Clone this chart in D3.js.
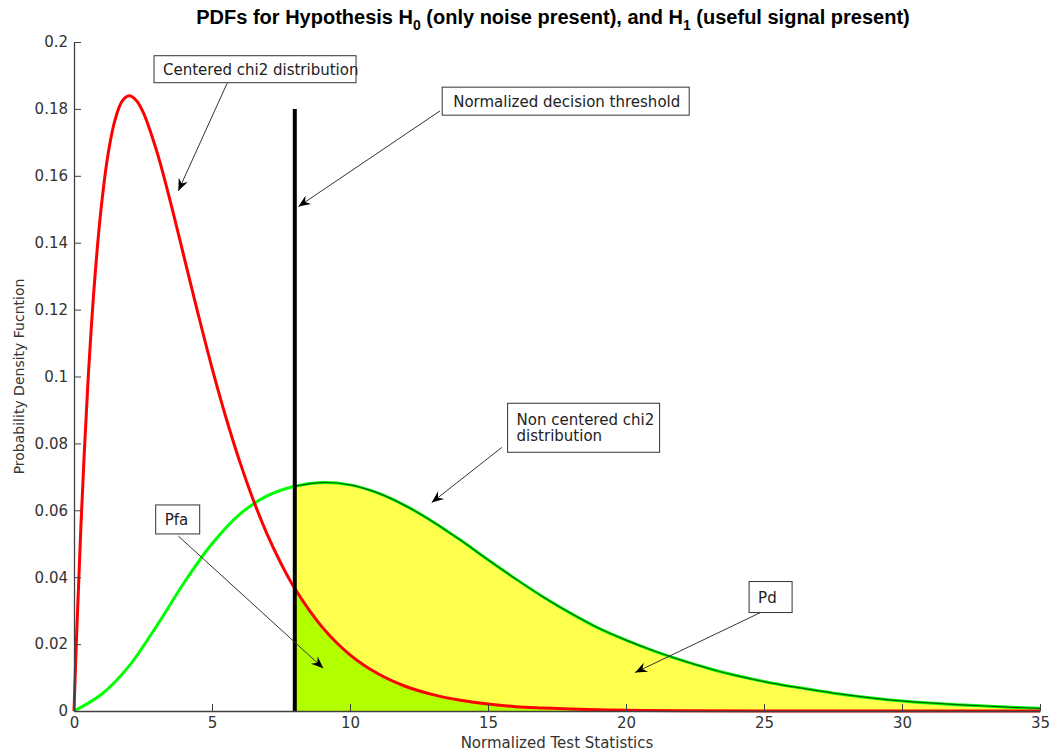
<!DOCTYPE html>
<html><head><meta charset="utf-8">
<script src="https://cdn.jsdelivr.net/npm/d3@7"></script>
<style>body{margin:0;background:#fff} svg{display:block}</style>
</head><body><svg id="chart" width="1052" height="756"></svg>
<script>
// ---------- data ----------
const xTicks = [0, 5, 10, 15, 20, 25, 30, 35];
const xTickLabels = ["0", "5", "10", "15", "20", "25", "30", "35"];
const yTicks = [0, 0.02, 0.04, 0.06, 0.08, 0.1, 0.12, 0.14, 0.16, 0.18, 0.2];
const yTickLabels = ["0", "0.02", "0.04", "0.06", "0.08", "0.1", "0.12", "0.14", "0.16", "0.18", "0.2"];

// centered chi2 (H0)
const redX = [0, 0.1, 0.25, 0.5, 0.75, 1, 1.25, 1.5, 1.75, 2, 2.25, 2.5, 3, 3.5, 4, 4.5, 5, 5.5, 6, 6.5, 7, 7.5, 8, 9, 10, 11, 12, 13, 14, 15, 16, 17, 18, 20, 22, 25, 30, 35];
const redY = [0, 0.0238, 0.0552, 0.0974, 0.1289, 0.1516, 0.1673, 0.1771, 0.1824, 0.1839, 0.1826, 0.1791, 0.1673, 0.1520, 0.1353, 0.1186, 0.1026, 0.0879, 0.0747, 0.0630, 0.0528, 0.0441, 0.0366, 0.0250, 0.0168, 0.0112, 0.0074, 0.0049, 0.0032, 0.0021, 0.0013, 0.0009, 0.0006, 0.0002, 0.0001, 0.00002, 0, 0];

// non centered chi2 (H1)
const greenX = [0, 1, 2, 3, 4, 5, 6, 7, 8, 9, 10, 11, 12, 13, 14, 15, 16, 17, 18, 19, 20, 21, 22, 23, 24, 25, 26, 27, 28, 29, 30, 31, 32, 33, 34, 35];
const greenY = [0, 0.005, 0.0135, 0.0255, 0.0385, 0.0500, 0.0588, 0.0643, 0.0672, 0.0683, 0.0676, 0.0652, 0.0614, 0.0566, 0.0511, 0.0452, 0.0395, 0.0341, 0.0292, 0.0248, 0.0212, 0.0180, 0.0152, 0.0127, 0.0106, 0.0088, 0.0073, 0.0060, 0.0048, 0.0038, 0.0030, 0.0024, 0.0019, 0.0015, 0.0011, 0.0008];

const threshold = 8;
const thresholdTop = 0.18;

// annotations (data coordinates)
const annoText = [["Centered chi2 distribution"], ["Normalized decision threshold"], ["Non centered chi2", "distribution"], ["Pfa"], ["Pd"]];
const annoBoxX = [2.90, 13.34, 15.71, 2.96, 24.46];
const annoBoxY = [0.1959, 0.1865, 0.0920, 0.0616, 0.0387];
const annoFromX = [5.55, 13.26, 15.50, 3.78, 24.94];
const annoFromY = [0.1877, 0.1794, 0.0788, 0.0523, 0.0297];
const annoToX = [3.78, 8.13, 12.96, 9.03, 20.33];
const annoToY = [0.1555, 0.1508, 0.0623, 0.0128, 0.0115];

// ---------- layout / style ----------
const W = 1052, H = 756;
const margin = {left: 74, top: 42, right: 12, bottom: 45};
const boxW = [202, 247, 152, 44, 43];
const boxH = [27, 28, 49, 29, 31];
const boxPad = [9, 11, 9, 9, 9];
const font = "'DejaVu Sans', Verdana, sans-serif";

const svg = d3.select("#chart");
const x = d3.scaleLinear().domain([0, 35]).range([margin.left, W - margin.right]);
const y = d3.scaleLinear().domain([0, 0.2]).range([H - margin.bottom, margin.top]);

const red = redX.map((v, i) => ({x: v, y: redY[i]}));
const green = greenX.map((v, i) => ({x: v, y: greenY[i]}));

const curve = d3.curveCatmullRom.alpha(0.5);
const line = d3.line().x(d => x(d.x)).y(d => y(d.y)).curve(curve);
const area = d3.area().x(d => x(d.x)).y0(y(0)).y1(d => y(d.y)).curve(curve);

// fills
svg.append("path").datum(green.filter(d => d.x >= threshold)).attr("d", area).attr("fill", "#ffff4d");
svg.append("path").datum(red.filter(d => d.x >= threshold)).attr("d", area).attr("fill", "#b2ff00");

// curves
svg.append("path").datum(green).attr("d", line).attr("fill", "none").attr("stroke", "#00ff00").attr("stroke-width", 3);
svg.append("path").datum(green.filter(d => d.x >= threshold)).attr("d", line).attr("fill", "none").attr("stroke", "#006400").attr("stroke-width", 1.2);
svg.append("path").datum(red).attr("d", line).attr("fill", "none").attr("stroke", "#ff0000").attr("stroke-width", 3);

// threshold
svg.append("line").attr("x1", x(threshold)).attr("x2", x(threshold)).attr("y1", y(0)).attr("y2", y(thresholdTop))
  .attr("stroke", "#000").attr("stroke-width", 4);

// axes
const axisColor = "#404040";
const xAxis = svg.append("g").attr("transform", `translate(0,${y(0)})`)
  .call(d3.axisBottom(x).tickValues(xTicks).tickFormat((d, i) => xTickLabels[i]).tickSizeInner(-7).tickSizeOuter(0).tickPadding(6));
const yAxis = svg.append("g").attr("transform", `translate(${x(0)},0)`)
  .call(d3.axisLeft(y).tickValues(yTicks).tickFormat((d, i) => yTickLabels[i]).tickSizeInner(-7).tickSizeOuter(0).tickPadding(6));
[xAxis, yAxis].forEach(g => {
  g.select(".domain").attr("stroke", axisColor).attr("stroke-width", 1.3);
  g.selectAll(".tick line").attr("stroke", axisColor).attr("stroke-width", 1);
  g.selectAll(".tick text").attr("fill", "#333").style("font-family", font).style("font-size", "15px");
});

// axis titles
svg.append("text").attr("x", (x(0) + x(35)) / 2).attr("y", 748).attr("text-anchor", "middle")
  .style("font-family", font).style("font-size", "15px").attr("fill", "#333").text("Normalized Test Statistics");
svg.append("text").attr("transform", `translate(24,${(y(0) + y(0.2)) / 2}) rotate(-90)`).attr("text-anchor", "middle")
  .style("font-family", font).style("font-size", "14px").attr("fill", "#333").text("Probability Density Fucntion");

// title with subscripts
const title = svg.append("text").attr("x", 553).attr("y", 24).attr("text-anchor", "middle")
  .style("font-family", "'Liberation Sans', Arial, sans-serif").style("font-weight", "bold").style("font-size", "20px").attr("fill", "#000");
title.append("tspan").text("PDFs for Hypothesis H");
title.append("tspan").attr("dy", 6).style("font-size", "14px").text("0");
title.append("tspan").attr("dy", -6).text(" (only noise present), and H");
title.append("tspan").attr("dy", 6).style("font-size", "14px").text("1");
title.append("tspan").attr("dy", -6).text(" (useful signal present)");

// annotations
const arrowHead = "M0,0 L-12,-5 L-8,0 L-12,5 Z";
annoText.forEach((lines, i) => {
  const fx = x(annoFromX[i]), fy = y(annoFromY[i]);
  const tx = x(annoToX[i]), ty = y(annoToY[i]);
  svg.append("line").attr("x1", fx).attr("y1", fy).attr("x2", tx).attr("y2", ty).attr("stroke", "#333").attr("stroke-width", 1);
  const ang = Math.atan2(ty - fy, tx - fx) * 180 / Math.PI;
  svg.append("path").attr("d", arrowHead).attr("transform", `translate(${tx},${ty}) rotate(${ang})`).attr("fill", "#000");
  const bx = x(annoBoxX[i]), by = y(annoBoxY[i]);
  svg.append("rect").attr("x", bx).attr("y", by).attr("width", boxW[i]).attr("height", boxH[i])
    .attr("fill", "#fff").attr("stroke", "#333").attr("stroke-width", 1);
  const lh = 16;
  const startY = by + boxH[i] / 2 - (lines.length - 1) * lh / 2 + 5.5;
  lines.forEach((t, j) => {
    svg.append("text").attr("x", bx + boxPad[i]).attr("y", startY + j * lh)
      .style("font-family", font).style("font-size", "15px").attr("fill", "#222").text(t);
  });
});
</script></body></html>
